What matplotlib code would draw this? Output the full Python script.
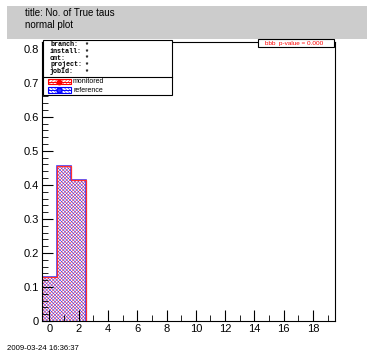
import numpy as np
import matplotlib
matplotlib.use("Agg")
import matplotlib.pyplot as plt
from matplotlib.patches import Rectangle
from matplotlib.lines import Line2D
from matplotlib.ticker import MultipleLocator

# ── Data ───────────────────────────────────────────────────────────────────────
bin_edges = np.arange(-0.5, 20.5, 1.0)
monitored = [0.129, 0.457, 0.413] + [0.0] * 17
reference = [0.129, 0.457, 0.413] + [0.0] * 17
title_lines = ["title: No. of True taus", "normal plot"]
stats_labels = ["branch:", "install:", "cmt:", "project:", "jobId:"]
stats_values = ["*", "*", "*", "*", "*"]
legend_labels = ["monitored", "reference"]
pvalue_text = "bbb  p-value = 0.000"
timestamp = "2009-03-24 16:36:37"

plt.rcParams["font.family"] = ["Liberation Sans", "DejaVu Sans"]
plt.rcParams["hatch.linewidth"] = 0.35

W, H = 367, 354
fig = plt.figure(figsize=(W / 100, H / 100), dpi=100)
fig.patch.set_facecolor("white")


def fx(x):
    return x / W


def fy(y):
    return 1 - y / H


HATCH_R = "/" * 10
HATCH_B = "\\" * 10

# ── Title bar ──────────────────────────────────────────────────────────────────
fig.patches.append(Rectangle((fx(7), fy(39)), fx(367 - 7), 33 / H,
                             transform=fig.transFigure, facecolor="#cccccc",
                             edgecolor="none"))
fig.text(fx(25), fy(13), title_lines[0], fontsize=7, va="center")
fig.text(fx(25), fy(25), title_lines[1], fontsize=7, va="center")

# ── Axes ───────────────────────────────────────────────────────────────────────
left, right, top, bottom = 42, 335, 42, 321
ax = fig.add_axes([fx(left), fy(bottom), (right - left) / W, (bottom - top) / H])
centers = (bin_edges[:-1] + bin_edges[1:]) / 2

ax.bar(centers, monitored, width=1.0, color="none", edgecolor="red",
       hatch=HATCH_R, linewidth=0)
ax.bar(centers, reference, width=1.0, color="none", edgecolor="blue",
       hatch=HATCH_B, linewidth=0)

# outline only over the filled bins, so the x axis stays black
n_ref = int(np.max(np.nonzero(reference)[0])) + 1
n_mon = int(np.max(np.nonzero(monitored)[0])) + 1
ax.stairs(reference[:n_ref], bin_edges[:n_ref + 1], color="#4040ff", linewidth=1.2)
ax.stairs(monitored[:n_mon], bin_edges[:n_mon + 1], color="#ff3030", linewidth=0.9)

ax.set_xlim(-0.5, 19.5)
ax.set_ylim(0, 0.82)
ax.xaxis.set_major_locator(MultipleLocator(2))
ax.xaxis.set_minor_locator(MultipleLocator(1))
ax.yaxis.set_major_locator(MultipleLocator(0.1))
ax.yaxis.set_minor_locator(MultipleLocator(0.02))
ax.tick_params(which="both", direction="in", top=False, right=False,
               labelsize=8, pad=2)
ax.tick_params(which="major", length=8)
ax.tick_params(which="minor", length=4)
ax.set_yticks(np.arange(0, 0.81, 0.1))
ax.set_yticklabels(["0", "0.1", "0.2", "0.3", "0.4", "0.5", "0.6", "0.7", "0.8"])
for s in ax.spines.values():
    s.set_linewidth(0.8)
    s.set_zorder(4)

# ── Stats / legend box ─────────────────────────────────────────────────────────
fig.patches.append(Rectangle((fx(43), fy(95)), fx(172 - 43), 55 / H,
                             transform=fig.transFigure, facecolor="white",
                             edgecolor="black", linewidth=0.8, zorder=5))
fig.add_artist(Line2D([fx(43), fx(172)], [fy(76.5), fy(76.5)], color="black",
                      linewidth=0.8, zorder=6))
for i, (lab, val) in enumerate(zip(stats_labels, stats_values)):
    y = 44.5 + i * 6.8
    fig.text(fx(50), fy(y), lab, fontsize=4.9, family="Liberation Mono",
             weight="bold", va="center", zorder=7)
    fig.text(fx(84), fy(y), val, fontsize=4.9, family="Liberation Mono",
             weight="bold", va="center", zorder=7)

for i, (lab, col) in enumerate(zip(legend_labels, ["red", "blue"])):
    y = 81.5 + i * 8.6
    hatch = HATCH_R if col == "red" else HATCH_B
    fig.patches.append(Rectangle((fx(48), fy(y + 2.8)), fx(22.5), 5.6 / H,
                                 transform=fig.transFigure, facecolor="white",
                                 edgecolor=col, hatch=hatch, linewidth=0.8,
                                 zorder=7))
    fig.add_artist(Line2D([fx(48), fx(70.5)], [fy(y), fy(y)], color=col,
                          linewidth=0.7, zorder=8))
    if col == "red":
        fig.add_artist(Line2D([fx(59)], [fy(y)], marker="o", color="red",
                              markersize=3.2, zorder=9))
    else:
        fig.add_artist(Line2D([fx(59)], [fy(y)], marker="o", color="blue",
                              markerfacecolor="#3030ff", markeredgewidth=1.0,
                              markersize=3.6, zorder=9))
    fig.text(fx(73), fy(y), lab, fontsize=5, va="center", zorder=8)

# ── p-value box ────────────────────────────────────────────────────────────────
fig.patches.append(Rectangle((fx(258), fy(47)), fx(334 - 258), 8 / H,
                             transform=fig.transFigure, facecolor="white",
                             edgecolor="black", linewidth=0.8, zorder=5))
fig.text(fx(265), fy(43), pvalue_text, fontsize=4.6, color="red",
         va="center", zorder=7)

# ── Timestamp ──────────────────────────────────────────────────────────────────
fig.text(fx(7), fy(348), timestamp, fontsize=5.6, va="center")

fig.savefig("out.png", dpi=100)
